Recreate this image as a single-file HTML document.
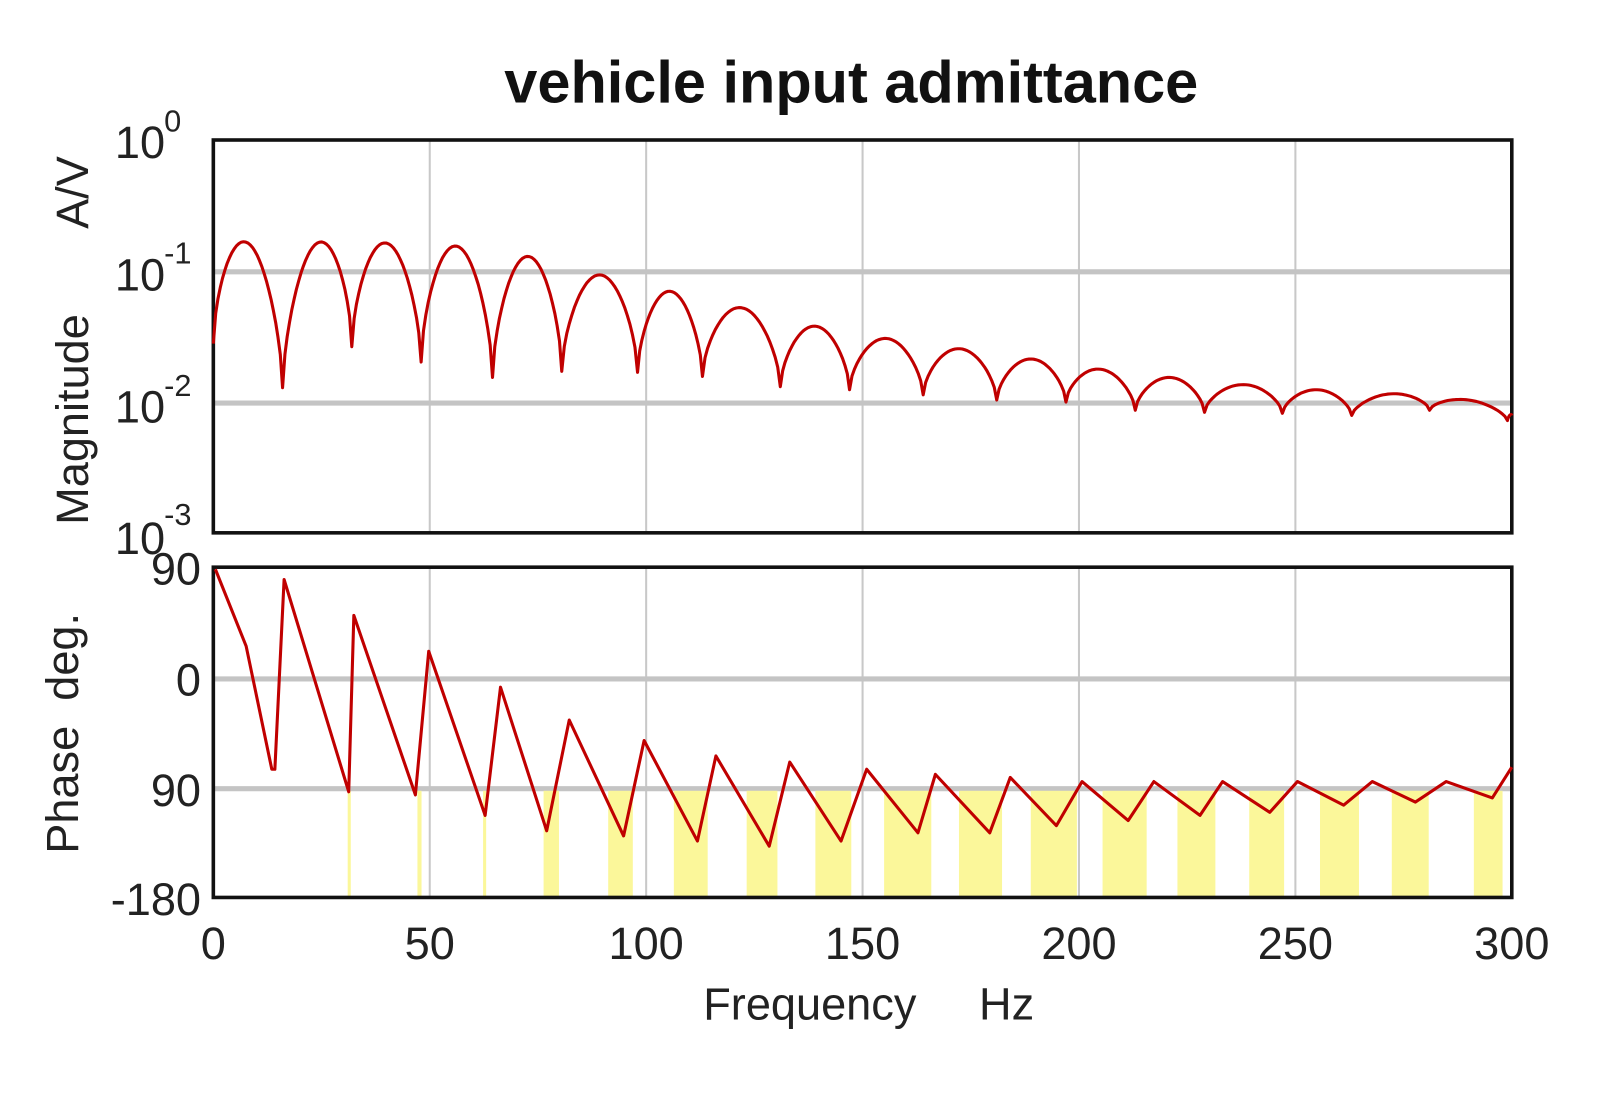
<!DOCTYPE html>
<html><head><meta charset="utf-8"><style>
html,body{margin:0;padding:0;background:#fff;}
svg{display:block;}
text{font-family:"Liberation Sans",sans-serif;fill:#222;}
</style></head><body>
<svg id="s" width="1600" height="1099" viewBox="0 0 1560 1071.5" preserveAspectRatio="none" xmlns="http://www.w3.org/2000/svg">
<rect width="1560" height="1071.5" fill="#fff"/>
<text x="830" y="100" font-size="58" font-weight="bold" text-anchor="middle" style="fill:#111">vehicle input admittance</text>
<g id="grid" stroke="#c8c8c8" stroke-width="2"></g>
<g stroke="#c4c4c4" stroke-width="5">
<line x1="208" y1="265" x2="1474" y2="265"/>
<line x1="208" y1="393" x2="1474" y2="393"/>
<line x1="208" y1="662" x2="1474" y2="662"/>
<line x1="208" y1="769" x2="1474" y2="769"/>
</g>
<g id="yel" fill="#fbf79a"></g>
<rect x="208" y="136.5" width="1266" height="383" fill="none" stroke="#111" stroke-width="3.5"/>
<rect x="208" y="553" width="1266" height="322" fill="none" stroke="#111" stroke-width="3.5"/>
<polyline id="mag" fill="none" stroke="#c00000" stroke-width="3" stroke-linejoin="round"/>
<polyline fill="none" stroke="#c00000" stroke-width="3" stroke-linejoin="round" points="210,555 240,630 265,750 268,750 277,565 340,772 345,600 405,775 418,635 473,795 488,670 533,810 555,702 608,815 628,722 680,820 698,737 750,825 770,743 820,820 845,750 895,812 912,755 965,812 985,758 1030,805 1055,762 1100,800 1125,762 1170,795 1192,762 1238,792 1265,762 1310,785 1338,762 1380,782 1410,762 1455,778 1474,748"/>
<g font-size="44">
<text x="112" y="154">10</text><text x="160" y="128" font-size="30">0</text>
<text x="112" y="283">10</text><text x="160" y="257" font-size="30">-1</text>
<text x="112" y="412">10</text><text x="160" y="386" font-size="30">-2</text>
<text x="112" y="540">10</text><text x="160" y="512" font-size="30">-3</text>
<text x="196" y="570" text-anchor="end">90</text>
<text x="196" y="678" text-anchor="end">0</text>
<text x="196" y="786" text-anchor="end">90</text>
<text x="196" y="892" text-anchor="end">-180</text>
<text x="208" y="935" text-anchor="middle">0</text>
<text x="419" y="935" text-anchor="middle">50</text>
<text x="630" y="935" text-anchor="middle">100</text>
<text x="841" y="935" text-anchor="middle">150</text>
<text x="1052" y="935" text-anchor="middle">200</text>
<text x="1263" y="935" text-anchor="middle">250</text>
<text x="1474" y="935" text-anchor="middle">300</text>
<text x="847" y="994" text-anchor="middle" xml:space="preserve">Frequency     Hz</text>
<text transform="translate(86,332) rotate(-90)" text-anchor="middle" xml:space="preserve">Magnitude       A/V</text>
<text transform="translate(76,715) rotate(-90)" text-anchor="middle" xml:space="preserve">Phase  deg.</text>
</g>
</svg>
<script>
var NS="http://www.w3.org/2000/svg";
var L=208,R=1474;function X(f){return L+(R-L)*f/300;}
var g=document.getElementById('grid');
for(var f=50;f<300;f+=50){var l=document.createElementNS(NS,'line');l.setAttribute('x1',X(f));l.setAttribute('x2',X(f));l.setAttribute('y1',137);l.setAttribute('y2',519);g.appendChild(l);
var l2=l.cloneNode();l2.setAttribute('y1',553);l2.setAttribute('y2',875);g.appendChild(l2);}
var y=document.getElementById('yel');
var bands=[[339,342],[407,411],[471,474],[530,545],[593,617],[657,690],[728,758],[795,830],[862,908],[935,977],[1005,1050],[1075,1118],[1148,1185],[1218,1252],[1287,1325],[1357,1393],[1437,1465]];
bands.forEach(function(b){var r=document.createElementNS(NS,'rect');r.setAttribute('x',b[0]);r.setAttribute('width',b[1]-b[0]);r.setAttribute('y',771);r.setAttribute('height',103);y.appendChild(r);});
var dips=[[0,335],[16,378],[32,338],[48,353],[64.5,368],[80.5,362],[98,363],[113,367],[131,377],[147,380],[164,385],[181,390],[197,392],[213,400],[229,402],[247,403],[263,405],[281,400],[299,410],[300,405]];
var peaks=[237,237,237,240,250,268,284,300,318,330,340,350,360,368,375,380,384,390,405];
var pts=[];
for(var i=0;i<dips.length-1;i++){var a=dips[i],b=dips[i+1],p=peaks[i];
 for(var k=0;k<=30;k++){var t=k/30;var f=a[0]+(b[0]-a[0])*t;var base=a[1]+(b[1]-a[1])*t;
  var s=Math.pow(Math.sin(Math.PI*t),0.6);
  var yy=base+(p-(a[1]+b[1])/2)*s;pts.push(X(f).toFixed(1)+','+yy.toFixed(1));}}
document.getElementById('mag').setAttribute('points',pts.join(' '));
</script>
</body></html>
